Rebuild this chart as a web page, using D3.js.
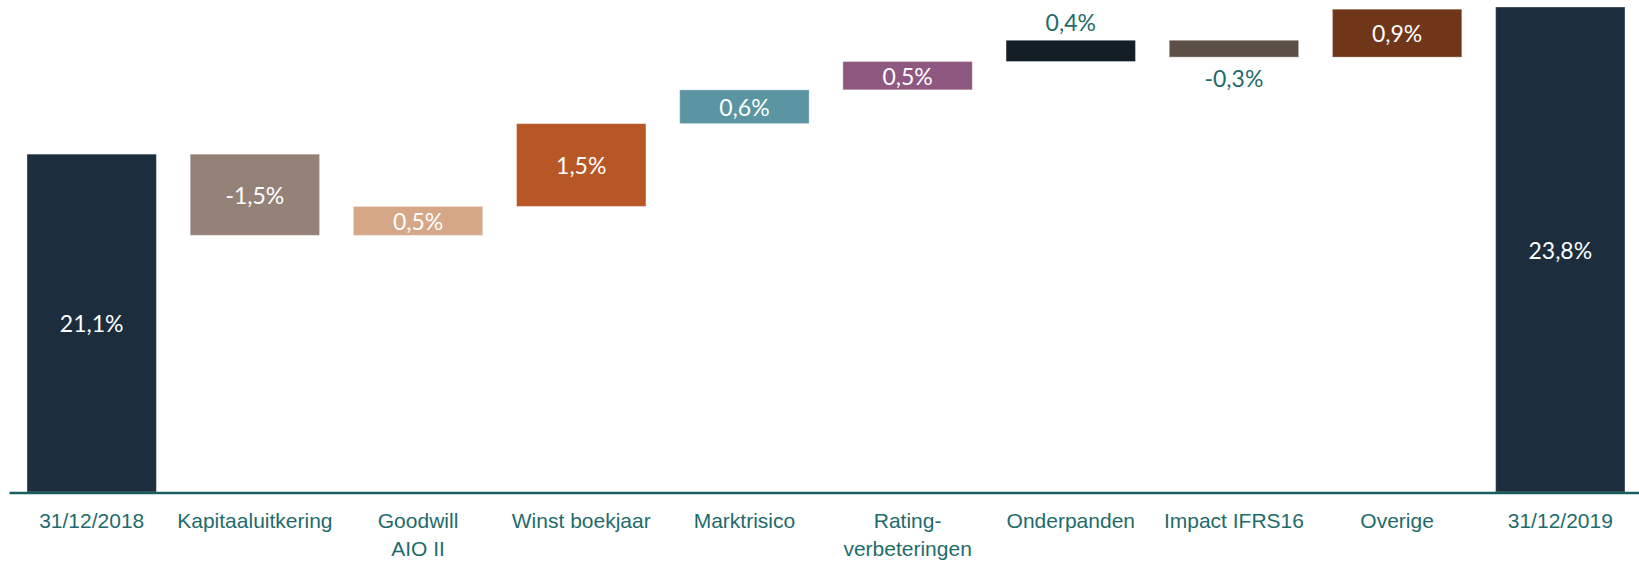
<!doctype html>
<html>
<head>
    <meta charset="utf-8">
    <script src="https://d3js.org/d3.v7.min.js"></script>
    <style>
        body { margin: 0; background: #fff; }
        svg { display: block; font-family: Lato, "Open Sans", sans-serif; }
        .axis path { stroke: #1b5d5e; stroke-width: 2.6px; }
        .axis line { display: none; }
        .axis text { fill: #1f6b6b; font-size: 21px; }
        .bar { stroke: #ffffff; stroke-opacity: .35; stroke-width: 1px; }
        .val { font-size: 23px; text-anchor: middle; dominant-baseline: central; }
    </style>
</head>
<body>
<svg id="chart" width="1639" height="561"></svg>
<script>
// categories (line breaks as in the picture)
var categories = ["31/12/2018", "Kapitaaluitkering", "Goodwill\nAIO II", "Winst boekjaar", "Marktrisico",
                  "Rating-\nverbeteringen", "Onderpanden", "Impact IFRS16", "Overige", "31/12/2019"];
// start and end totals (%)
var totals = [21.1, 23.8];
// movements in between (%)
var deltas = [-1.49, 0.53, 1.52, 0.62, 0.52, 0.39, -0.31, 0.88];
var colors = ["#1c2e3d", "#948279", "#d5a787", "#b85726", "#5b95a2",
              "#8f5880", "#141e26", "#5c4f48", "#70361a", "#1c2e3d"];

// build waterfall rows
var rows = [];
var level = totals[0];
rows.push({cat: categories[0], lo: 14.9, hi: totals[0], v: totals[0], total: true});
deltas.forEach(function(d, i) {
    var next = level + d;
    rows.push({cat: categories[i + 1], lo: Math.min(level, next), hi: Math.max(level, next), v: d, total: false});
    level = next;
});
rows.push({cat: categories[9], lo: 14.9, hi: totals[1], v: totals[1], total: true});

var svg = d3.select("#chart");

var x = d3.scaleBand()
    .domain(categories)
    .range([27, 1625])
    .paddingInner(0.207)
    .paddingOuter(0);

var y = d3.scaleLinear()
    .domain([14.9, 23.8])
    .range([492, 7]);

var fmt = function(v) { return d3.format(".1f")(v).replace("\u2212", "-").replace(".", ",") + "%"; };

svg.append("g")
    .selectAll(".bar")
    .data(rows)
    .enter()
    .append("rect")
    .attr("class", "bar")
    .attr("x", function(d) { return x(d.cat); })
    .attr("width", x.bandwidth())
    .attr("y", function(d) { return y(d.hi); })
    .attr("height", function(d) { return y(d.lo) - y(d.hi); })
    .attr("fill", function(d, i) { return colors[i]; });

svg.append("g")
    .selectAll(".val")
    .data(rows)
    .enter()
    .append("text")
    .attr("class", "val")
    .attr("x", function(d) { return x(d.cat) + x.bandwidth() / 2; })
    .attr("y", function(d) {
        var h = y(d.lo) - y(d.hi);
        if (h >= 25) return (y(d.lo) + y(d.hi)) / 2;
        return d.v >= 0 ? y(d.hi) - 18 : y(d.lo) + 21;
    })
    .attr("fill", function(d) { return (y(d.lo) - y(d.hi)) >= 25 ? "#ffffff" : "#1f6b6b"; })
    .text(function(d) { return fmt(d.v); });

var axis = svg.append("g")
    .attr("class", "axis")
    .attr("transform", "translate(0,493)")
    .call(d3.axisBottom(x).tickSizeOuter(0).tickSize(0));

axis.select(".domain").attr("d", "M9.5,0H1639");

axis.selectAll(".tick text").each(function(d) {
    var t = d3.select(this).text(null).attr("y", 0).attr("dy", null);
    d.split("\n").forEach(function(line, i) {
        t.append("tspan")
            .attr("x", 0)
            .attr("y", 35 + i * 28)
            .text(line);
    });
});
</script>
</body>
</html>
